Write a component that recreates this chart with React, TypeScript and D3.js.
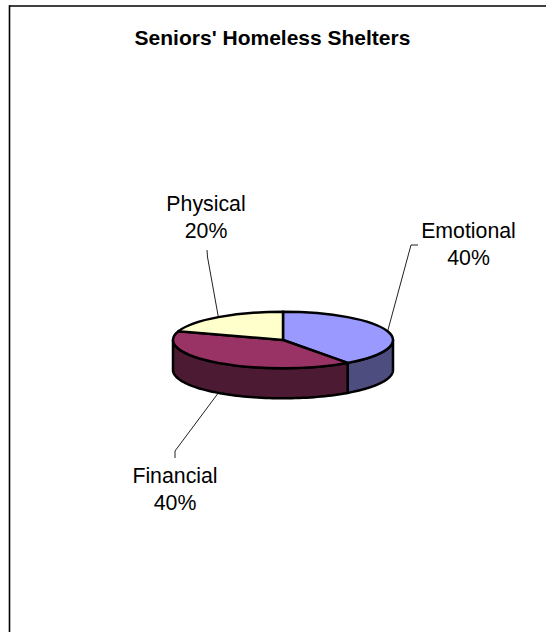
import React from "react";
import * as d3 from "d3";

const categories = ["Emotional", "Financial", "Physical"];
const shares = [40, 40, 20];
const percentLabels = ["40%", "40%", "20%"];
const topColors = ["#9999FF", "#993366", "#FFFFCC"];
const sideColors = ["#4D4D80", "#4D1A33", "#808066"];
const title = "Seniors' Homeless Shelters";

const W = 546, H = 632;
const cx = 283, cy = 340, rx = 110, ry = 28.3, depth = 30;

// label layout: centre x, first baseline, leader elbow offsets
const labelLayout = [
  { x: 468.5, y: 238, elbow: [[418, 245], [411, 245]], onWall: false },
  { x: 175, y: 483, elbow: [[175, 458], [175, 451]], onWall: true },
  { x: 206, y: 211, elbow: [[207, 250], [207.5, 257]], onWall: false },
];

const px = (a: number) => cx + rx * Math.sin(a);
const py = (a: number) => cy - ry * Math.cos(a);

const pieGen = d3.pie<number>().sort(null).startAngle(0).endAngle(2 * Math.PI);
const arcs = pieGen(shares);
const arcGen = d3.arc<d3.PieArcDatum<number>>().innerRadius(0).outerRadius(rx);

function wallPath(a0: number, a1: number): string | null {
  const s = Math.max(a0, Math.PI / 2);
  const e = Math.min(a1, (3 * Math.PI) / 2);
  if (e <= s) return null;
  const toXY = (a: number, dy: number): [number, number] => [px(a), py(a) + dy];
  const n = 64;
  const angles = d3.range(n + 1).map((i) => s + ((e - s) * i) / n);
  const top = angles.map((a) => toXY(a, 0));
  const bottom = angles.slice().reverse().map((a) => toXY(a, depth));
  return (d3.line()([...top, ...bottom]) as string) + "Z";
}

export default function App() {
  const leader = d3.line();
  return (
    <svg
      width={W}
      height={H}
      style={{ position: "absolute", left: 0, top: 0, background: "#fff" }}
      fontFamily="'Liberation Sans', Arial, sans-serif"
    >
      <line x1={9} y1={6} x2={W} y2={6} stroke="#000" strokeWidth={1.6} />
      <line x1={9.5} y1={5.2} x2={9.5} y2={H} stroke="#000" strokeWidth={1.6} />

      <text x={272.5} y={45} textAnchor="middle" fontSize={21} fontWeight="bold" fill="#000">
        {title}
      </text>

      {arcs.map((d, i) => {
        const mid = (d.startAngle + d.endAngle) / 2;
        const L = labelLayout[i];
        const end: [number, number] = [px(mid), py(mid) + (L.onWall ? depth : 0)];
        return (
          <path
            key={categories[i]}
            d={leader([...(L.elbow as [number, number][]), end]) as string}
            fill="none"
            stroke="#222"
            strokeWidth={1}
          />
        );
      })}

      {arcs.map((d, i) => {
        const p = wallPath(d.startAngle, d.endAngle);
        return p ? (
          <path key={i} d={p} fill={sideColors[i]} stroke="#000" strokeWidth={2.5} strokeLinejoin="round" />
        ) : null;
      })}

      <g transform={`translate(${cx},${cy}) scale(1,${ry / rx})`}>
        {arcs.map((d, i) => (
          <path
            key={i}
            d={arcGen(d) as string}
            fill={topColors[i]}
            stroke="#000"
            strokeWidth={2.5}
            strokeLinejoin="round"
            vectorEffect="non-scaling-stroke"
          />
        ))}
      </g>

      {categories.map((c, i) => (
        <text key={c} textAnchor="middle" fontSize={21.3} fill="#000">
          <tspan x={labelLayout[i].x} y={labelLayout[i].y}>{c}</tspan>
          <tspan x={labelLayout[i].x} y={labelLayout[i].y + 27}>{percentLabels[i]}</tspan>
        </text>
      ))}
    </svg>
  );
}
